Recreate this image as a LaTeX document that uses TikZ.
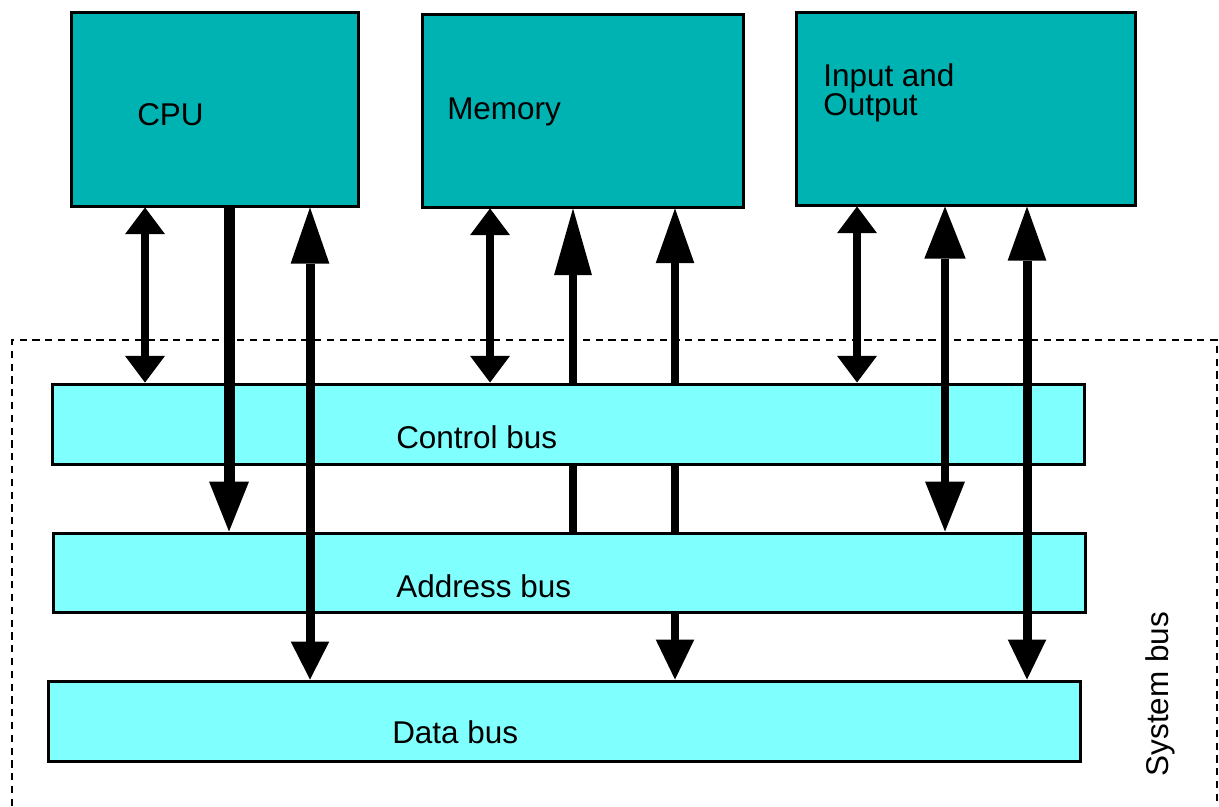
\documentclass[tikz,border=0pt]{standalone}
\usepackage{fontspec}
\setmainfont{Liberation Sans}
\usetikzlibrary{arrows.meta,fit,backgrounds}
\definecolor{unitteal}{RGB}{0,179,179}
\definecolor{buscyan}{RGB}{128,255,255}
\begin{document}
\begin{tikzpicture}[x=0.75pt,y=-0.75pt,
  unitbox/.style={draw=black, line width=2.25pt, fill=unitteal, inner sep=0pt},
  busbox/.style={draw=black, line width=2.25pt, fill=buscyan, inner sep=0pt},
  lbl/.style={font=\fontsize{23.6}{21.75}\selectfont, inner sep=0pt, anchor=base west, align=left},
  sysframe/.style={draw=black, line width=2.1pt, dash pattern=on 5.4pt off 4.2pt},
  smallarr/.style={draw=black, line width=6pt,
    {Triangle[width=30pt,length=20pt,line width=0pt]}-{Triangle[width=30pt,length=20pt,line width=0pt]}},
]
\useasboundingbox (0,0) rectangle (1219,806);

% system bus frame
\draw[sysframe] (12,806) -- (12,340) -- (1217,340) -- (1217,806);
\node[font=\fontsize{23.6}{24}\selectfont, inner sep=0pt, rotate=90, anchor=base] (sys) at (1168,694) {System bus};

% units
\node[unitbox, fit={(71,13) (358,206)}] (cpu) {};
\node[unitbox, fit={(422,15) (743,207)}] (mem) {};
\node[unitbox, fit={(796,13) (1135,205)}] (io) {};
\node[lbl] (cpul) at (137,126) {CPU};
\node[lbl] (meml) at (447,120) {Memory};
\node[lbl, anchor=north west] (iol) at (823,63.5) {Input and\\Output};

% buses
\node[busbox, fit={(52,384) (1084,464)}] (ctrl) {};
\node[busbox, fit={(53,533) (1085,612)}] (addr) {};
\node[busbox, fit={(48,681) (1080,761)}] (data) {};
\node[lbl] (ctrll) at (396,448) {Control bus};
\node[lbl] (addrl) at (396,597) {Address bus};
\node[lbl] (datal) at (392,743) {Data bus};

% memory arrows (behind the buses)
\begin{scope}[on background layer]
\draw[line width=6.25pt, -{Triangle[width=28.5pt,length=50pt,line width=0pt]}]
  (573,0 |- addr.north) -- (573,0 |- mem.south);
\draw[line width=6.25pt, {Triangle[width=29pt,length=41pt,line width=0pt]}-{Triangle[width=29pt,length=30pt,line width=0pt]}]
  (675,0 |- mem.south) -- (675,0 |- data.north);
\end{scope}

% control arrows
\draw[smallarr] (145,0 |- cpu.south) -- (145,0 |- ctrl.north);
\draw[smallarr] (490,0 |- mem.south) -- (490,0 |- ctrl.north);
\draw[smallarr] (857,0 |- io.south) -- (857,0 |- ctrl.north);

% CPU arrows
\draw[line width=8.25pt, -{Triangle[width=30pt,length=37.5pt,line width=0pt]}]
  (229,0 |- cpu.south) -- (229,0 |- addr.north);
\draw[line width=6.75pt, {Triangle[width=29pt,length=42pt,line width=0pt]}-{Triangle[width=29pt,length=28.5pt,line width=0pt]}]
  (310,0 |- cpu.south) -- (310,0 |- data.north);

% I/O arrows
\draw[line width=6pt, {Triangle[width=31pt,length=39pt,line width=0pt]}-{Triangle[width=30pt,length=37.5pt,line width=0pt]}]
  (945,0 |- io.south) -- (945,0 |- addr.north);
\draw[line width=6.75pt, {Triangle[width=29pt,length=40.5pt,line width=0pt]}-{Triangle[width=29pt,length=30pt,line width=0pt]}]
  (1027,0 |- io.south) -- (1027,0 |- data.north);
\end{tikzpicture}
\end{document}
